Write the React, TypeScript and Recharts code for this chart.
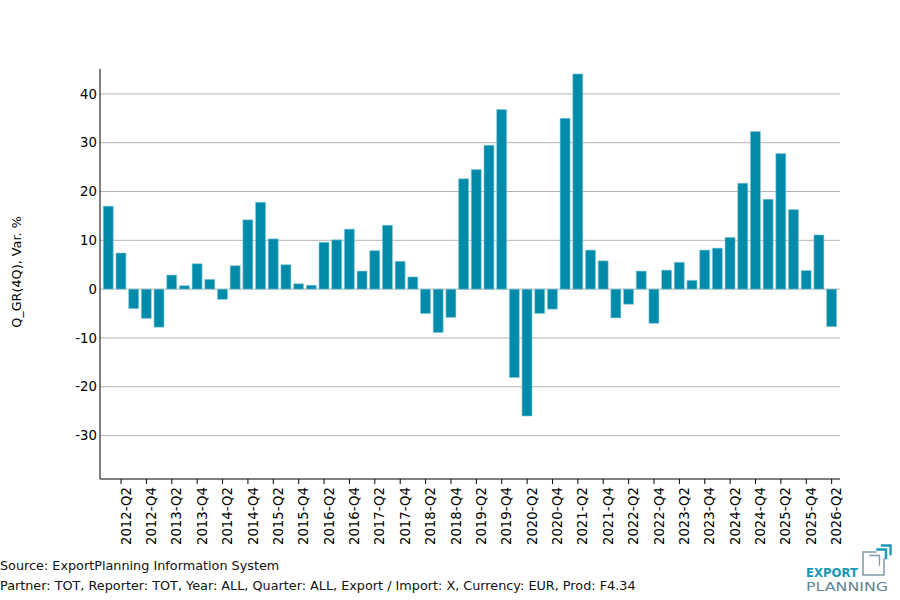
import { Bar, BarChart, CartesianGrid, Label, XAxis, YAxis } from "recharts"

// quarterly growth rate (4Q), % change
const quarters = [
  "2012-Q1", "2012-Q2", "2012-Q3", "2012-Q4",
  "2013-Q1", "2013-Q2", "2013-Q3", "2013-Q4",
  "2014-Q1", "2014-Q2", "2014-Q3", "2014-Q4",
  "2015-Q1", "2015-Q2", "2015-Q3", "2015-Q4",
  "2016-Q1", "2016-Q2", "2016-Q3", "2016-Q4",
  "2017-Q1", "2017-Q2", "2017-Q3", "2017-Q4",
  "2018-Q1", "2018-Q2", "2018-Q3", "2018-Q4",
  "2019-Q1", "2019-Q2", "2019-Q3", "2019-Q4",
  "2020-Q1", "2020-Q2", "2020-Q3", "2020-Q4",
  "2021-Q1", "2021-Q2", "2021-Q3", "2021-Q4",
  "2022-Q1", "2022-Q2", "2022-Q3", "2022-Q4",
  "2023-Q1", "2023-Q2", "2023-Q3", "2023-Q4",
  "2024-Q1", "2024-Q2", "2024-Q3", "2024-Q4",
  "2025-Q1", "2025-Q2", "2025-Q3", "2025-Q4",
  "2026-Q1", "2026-Q2",
]

const growth = [
  17.0, 7.4, -4.0, -6.0,
  -7.8, 2.9, 0.7, 5.2,
  2.0, -2.1, 4.8, 14.2,
  17.8, 10.3, 5.0, 1.1,
  0.8, 9.6, 10.1, 12.3,
  3.7, 7.9, 13.1, 5.7,
  2.5, -5.0, -8.9, -5.8,
  22.6, 24.5, 29.5, 36.8,
  -18.1, -26.0, -5.0, -4.1,
  35.0, 44.1, 8.0, 5.8,
  -5.9, -3.1, 3.7, -7.0,
  3.9, 5.5, 1.8, 8.0,
  8.4, 10.6, 21.7, 32.3,
  18.4, 27.8, 16.3, 3.8,
  11.1, -7.7,
]

const yTicks = [-30, -20, -10, 0, 10, 20, 30, 40]

const chartData = quarters.map((q, i) => ({ quarter: q, value: growth[i] }))

const FONT = "'DejaVu Sans', sans-serif"

function QuarterTick(props: any) {
  const { x, y, payload } = props
  const v: string = payload.value
  if (!/Q[24]$/.test(v)) return <g />
  return (
    <g>
      <line x1={x} x2={x} y1={y - 8} y2={y - 3} stroke="#000" />
      <text
        x={0}
        y={0}
        transform={`translate(${x},${y}) rotate(-90)`}
        textAnchor="end"
        dy="0.72em"
        fontSize={13.3}
        fontFamily={FONT}
        fill="#000"
      >
        {v}
      </text>
    </g>
  )
}

function YTitle() {
  return (
    <text
      x={21}
      y={272}
      transform="rotate(-90, 21, 272)"
      textAnchor="middle"
      fontSize={12.8}
      fontFamily={FONT}
      fill="#000"
    >
      Q_GR(4Q), Var. %
    </text>
  )
}

function App() {
  return (
    <div style={{ position: "absolute", left: 0, top: 0, width: 900, height: 600, background: "#fff" }}>
      <BarChart
        width={900}
        height={600}
        data={chartData}
        margin={{ top: 69, right: 60, bottom: 51, left: 0 }}
        barCategoryGap="10%"
      >
        <CartesianGrid vertical={false} stroke="#b3b3b3" horizontalValues={yTicks} />
        <XAxis
          dataKey="quarter"
          interval={0}
          height={70}
          padding={{ left: 2, right: 2 }}
          axisLine={{ stroke: "#000" }}
          tickLine={false}
          tickSize={5}
          tickMargin={3}
          tick={<QuarterTick />}
        />
        <YAxis
          width={100}
          domain={[-38.9, 45.1]}
          ticks={yTicks}
          allowDataOverflow
          axisLine={{ stroke: "#000" }}
          tickLine={false}
          tickSize={0}
          tickMargin={3}
          tick={{ fill: "#000", fontSize: 13.3, fontFamily: FONT }}
        >
          <Label content={<YTitle />} />
        </YAxis>
        <Bar
          dataKey="value"
          fill="#008baa"
          stroke="#8ccbd9"
          strokeWidth={0.6}
          isAnimationActive={false}
        />
      </BarChart>
      <svg
        width={900}
        height={600}
        style={{ position: "absolute", left: 0, top: 0, pointerEvents: "none" }}
      >
        <text x={0} y={570} fontSize={12.8} fontFamily={FONT} fill="#111">
          Source: ExportPlanning Information System
        </text>
        <text x={0} y={590} fontSize={12.8} fontFamily={FONT} fill="#111">
          Partner: TOT, Reporter: TOT, Year: ALL, Quarter: ALL, Export / Import: X, Currency: EUR, Prod: F4.34
        </text>
        <text
          x={806}
          y={576.5}
          fontSize={12.5}
          fontWeight="bold"
          fontFamily={FONT}
          fill="#1a98b4"
          textLength={52}
          lengthAdjust="spacingAndGlyphs"
        >
          EXPORT
        </text>
        <text
          x={806}
          y={591}
          fontSize={12.5}
          fontFamily={FONT}
          fill="#5e8394"
          textLength={82}
          lengthAdjust="spacingAndGlyphs"
        >
          PLANNING
        </text>
        <g fill="none" strokeLinecap="square">
          <path d="M884 559 V575 H863 V552 H876" stroke="#7f9aa8" strokeWidth={1.5} />
          <path d="M870 555.5 H879.5 V565" stroke="#7f9aa8" strokeWidth={1.3} />
          <path d="M877.5 549.5 H886 V558" stroke="#1a98b4" strokeWidth={2.4} />
          <path d="M882 545.5 H890.5 V554" stroke="#1a98b4" strokeWidth={2.4} />
        </g>
      </svg>
    </div>
  )
}

export default App
